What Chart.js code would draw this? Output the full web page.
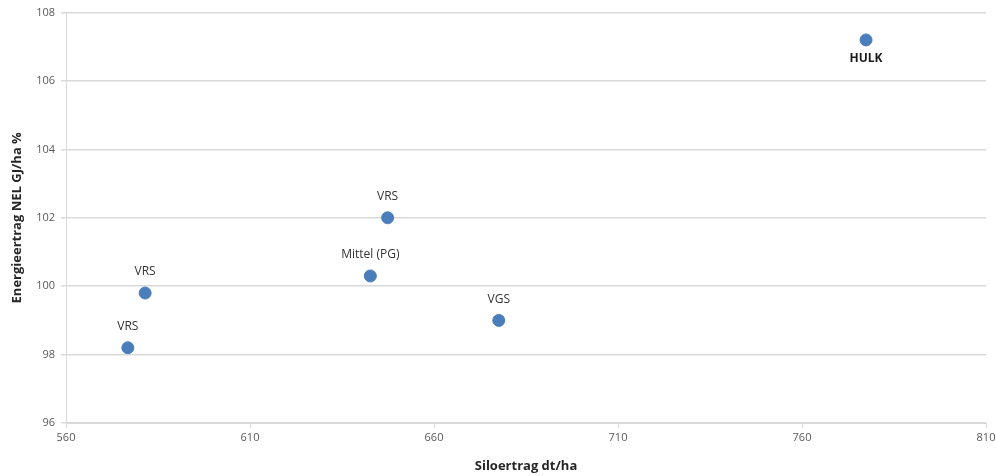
<!DOCTYPE html>
<html><head><meta charset="utf-8">
<script src="https://cdn.jsdelivr.net/npm/chart.js@4/dist/chart.umd.min.js"></script>
<style>html,body{margin:0;padding:0;background:#fff}#wrap{width:996px;height:476px}</style>
</head><body><div id="wrap"><canvas id="c" width="996" height="476"></canvas></div>
<script>
const pointNames = ["VRS", "VRS", "Mittel (PG)", "VRS", "VGS", "HULK"];
const xValues = [576.8, 581.5, 642.7, 647.4, 677.6, 777.4];
const yValues = [98.2, 99.8, 100.3, 102.0, 99.0, 107.2];
const xTicks = [560, 610, 660, 710, 760, 810];
const yTicks = [96, 98, 100, 102, 104, 106, 108];
const xTitle = "Siloertrag dt/ha";
const yTitle = "Energieertrag NEL GJ/ha %";

const FONT = "'Open Sans', 'Liberation Sans', sans-serif";

const labelPlugin = {
  id: 'pointLabels',
  afterDatasetsDraw(chart) {
    const ctx = chart.ctx;
    const meta = chart.getDatasetMeta(0);
    ctx.save();
    ctx.textAlign = 'center';
    ctx.textBaseline = 'middle';
    meta.data.forEach((el, i) => {
      const name = pointNames[i];
      const bold = name === 'HULK';
      ctx.font = (bold ? 'bold ' : '') + '12px ' + FONT;
      ctx.fillStyle = bold ? '#1a1a1a' : '#333333';
      const dy = bold ? 19 : -21;
      ctx.fillText(name, el.x, el.y + dy);
    });
    ctx.restore();
  }
};

new Chart(document.getElementById('c'), {
  type: 'scatter',
  data: {
    datasets: [{
      data: xValues.map((x, i) => ({x: x, y: yValues[i]})),
      backgroundColor: '#4a7ebb',
      borderColor: '#4a7ebb',
      pointRadius: 6,
      pointHoverRadius: 6
    }]
  },
  options: {
    responsive: false,
    animation: false,
    layout: {padding: {left: 0, right: 10, top: 4, bottom: 0}},
    plugins: {legend: {display: false}, tooltip: {enabled: false}},
    scales: {
      x: {
        type: 'linear', min: 560, max: 810,
        afterBuildTicks(axis) { axis.ticks = xTicks.map(v => ({value: v})); },
        afterFit(axis) { axis.height = 53; axis.paddingRight = 0; axis.paddingLeft = 0; },
        grid: {display: true, drawOnChartArea: false, drawTicks: true, tickLength: 5, color: '#d9d9d9'},
        border: {display: true, color: '#d9d9d9', width: 1},
        ticks: {color: '#595959', font: {family: FONT, size: 11}, padding: 3, maxRotation: 0},
        title: {display: true, text: xTitle, color: '#262626', font: {family: FONT, size: 13, weight: 'bold'}, padding: {top: 0, bottom: 2}}
      },
      y: {
        type: 'linear', min: 96, max: 108,
        afterBuildTicks(axis) { axis.ticks = yTicks.map(v => ({value: v})); },
        afterFit(axis) { axis.width = 66; },
        grid: {color: '#d9d9d9', lineWidth: 1.5, drawTicks: true, tickLength: 5},
        border: {display: true, color: '#d9d9d9', width: 1},
        ticks: {color: '#595959', font: {family: FONT, size: 11}, padding: 6},
        title: {display: true, text: yTitle, color: '#262626', font: {family: FONT, size: 13, weight: 'bold'}, padding: {top: 9, bottom: 0}}
      }
    }
  },
  plugins: [labelPlugin]
});
</script></body></html>
